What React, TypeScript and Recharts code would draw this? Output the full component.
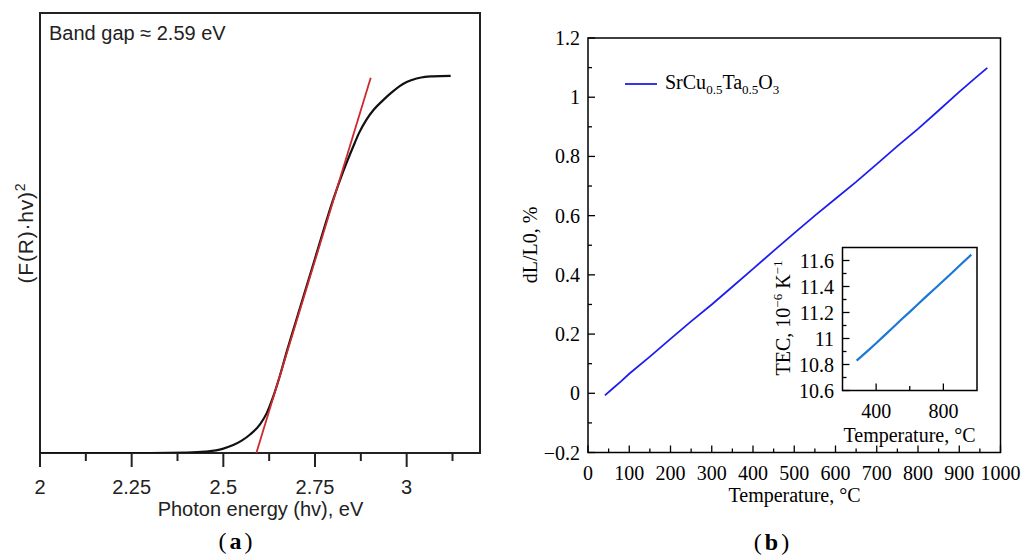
import React from "react";
import { LineChart, Line, XAxis, YAxis, ReferenceArea } from "recharts";

// ---------- Panel (a): Tauc plot ----------
const aCurveX = [2.0, 2.3, 2.4, 2.45, 2.48, 2.5, 2.527, 2.55, 2.573, 2.6, 2.618, 2.636, 2.654, 2.67, 2.7, 2.75, 2.8, 2.827, 2.854, 2.87, 2.89, 2.91, 2.936, 2.96, 2.981, 3.0, 3.027, 3.05, 3.072, 3.12];
const aCurveY = [0, 0, 0.001, 0.003, 0.006, 0.01, 0.018, 0.028, 0.042, 0.065, 0.09, 0.128, 0.175, 0.222, 0.305, 0.442, 0.577, 0.64, 0.696, 0.727, 0.757, 0.78, 0.802, 0.82, 0.834, 0.843, 0.851, 0.855, 0.856, 0.857];
const aFitX = [2.59, 2.902];
const aFitY = [0, 0.853];
const aXMajor = [2, 2.25, 2.5, 2.75, 3];
const aXMajorLabels = ["2", "2.25", "2.5", "2.75", "3"];
const aXMinor = [2.125, 2.375, 2.625, 2.875, 3.125];

// ---------- Panel (b): dilatometry ----------
const bTemp = [41, 60, 80, 100, 150, 200, 250, 300, 350, 400, 450, 500, 550, 600, 650, 700, 750, 800, 850, 900, 940, 968];
const bDL = [-0.007, 0.016, 0.04, 0.066, 0.124, 0.184, 0.243, 0.3, 0.36, 0.42, 0.481, 0.541, 0.6, 0.657, 0.714, 0.774, 0.835, 0.893, 0.955, 1.018, 1.066, 1.099];
const bXMajor = [0, 100, 200, 300, 400, 500, 600, 700, 800, 900, 1000];
const bXMajorLabels = ["0", "100", "200", "300", "400", "500", "600", "700", "800", "900", "1000"];
const bXMinor = [50, 150, 250, 350, 450, 550, 650, 750, 850, 950];
const bYMajor = [-0.2, 0, 0.2, 0.4, 0.6, 0.8, 1.0, 1.2];
const bYMajorLabels = ["\u22120.2", "0", "0.2", "0.4", "0.6", "0.8", "1", "1.2"];
const bYMinor = [-0.1, 0.1, 0.3, 0.5, 0.7, 0.9, 1.1];

// ---------- Inset: TEC ----------
const iTemp = [284, 350, 400, 450, 500, 550, 600, 650, 700, 750, 800, 850, 900, 966];
const iTEC = [10.83, 10.905, 10.963, 11.024, 11.085, 11.146, 11.205, 11.265, 11.326, 11.385, 11.444, 11.504, 11.565, 11.645];
const iXMajor = [400, 800];
const iXMajorLabels = ["400", "800"];
const iXMinor = [600];
const iYMajor = [10.6, 10.8, 11.0, 11.2, 11.4, 11.6];
const iYMajorLabels = ["10.6", "10.8", "11", "11.2", "11.4", "11.6"];
const iYMinor = [10.7, 10.9, 11.1, 11.3, 11.5];

const aCurve = aCurveX.map((x, i) => ({ x, y: aCurveY[i] }));
const aFit = aFitX.map((x, i) => ({ x, y: aFitY[i] }));
const bData = bTemp.map((x, i) => ({ x, y: bDL[i] }));
const iData = iTemp.map((x, i) => ({ x, y: iTEC[i] }));

const SANS = "'Liberation Sans', Arial, sans-serif";
const SERIF = "'Liberation Serif', 'Times New Roman', serif";

function findIdx(arr: number[], v: number) {
  return arr.findIndex((m) => Math.abs(m - v) < 1e-6);
}

function bottomTick(opts: {
  majors: number[]; labels: string[]; axisY: number; labelY: number;
  majorLen: number; minorLen: number; inward: boolean; color: string; width: number; font: string; size: number;
}) {
  return (props: any) => {
    const { x, payload } = props;
    const idx = findIdx(opts.majors, payload.value);
    const len = idx >= 0 ? opts.majorLen : opts.minorLen;
    const dir = opts.inward ? -1 : 1;
    return (
      <g>
        <line x1={x} x2={x} y1={opts.axisY} y2={opts.axisY + dir * len} stroke={opts.color} strokeWidth={opts.width} />
        {idx >= 0 && (
          <text x={x} y={opts.labelY} textAnchor="middle" fontFamily={opts.font} fontSize={opts.size} fill={opts.color}>
            {opts.labels[idx]}
          </text>
        )}
      </g>
    );
  };
}

function leftTick(opts: {
  majors: number[]; labels: string[]; axisX: number; labelX: number;
  majorLen: number; minorLen: number; color: string; width: number; font: string; size: number;
}) {
  return (props: any) => {
    const { y, payload } = props;
    const idx = findIdx(opts.majors, payload.value);
    const len = idx >= 0 ? opts.majorLen : opts.minorLen;
    return (
      <g>
        <line x1={opts.axisX} x2={opts.axisX + len} y1={y} y2={y} stroke={opts.color} strokeWidth={opts.width} />
        {idx >= 0 && (
          <text x={opts.labelX} y={y + 7} textAnchor="end" fontFamily={opts.font} fontSize={opts.size} fill={opts.color}>
            {opts.labels[idx]}
          </text>
        )}
      </g>
    );
  };
}

const layer: React.CSSProperties = { position: "absolute", left: 0, top: 0 };

export default function App() {
  const aTicks = [...aXMajor, ...aXMinor].sort((p, q) => p - q);
  const bXTicks = [...bXMajor, ...bXMinor].sort((p, q) => p - q);
  const bYTicks = [...bYMajor, ...bYMinor].sort((p, q) => p - q);
  const iXTicks = [...iXMajor, ...iXMinor].sort((p, q) => p - q);
  const iYTicks = [...iYMajor, ...iYMinor].sort((p, q) => p - q);

  return (
    <div style={{ position: "absolute", left: 0, top: 0, width: 1026, height: 556, background: "#fff", overflow: "hidden" }}>
      {/* Panel (a) */}
      <div style={layer}>
        <LineChart width={1026} height={556} margin={{ top: 13, left: 39, right: 546, bottom: 102 }}>
          <XAxis
            type="number" dataKey="x" domain={[2, 3.2]} ticks={aTicks} interval={0} height={1}
            axisLine={false} tickLine={false} allowDataOverflow
            tick={bottomTick({ majors: aXMajor, labels: aXMajorLabels, axisY: 453, labelY: 493.5, majorLen: 14, minorLen: 8, inward: false, color: "#222", width: 2, font: SANS, size: 20 })}
          />
          <YAxis type="number" domain={[0, 1]} width={1} tick={false} axisLine={false} tickLine={false} allowDataOverflow />
          <ReferenceArea x1={2} x2={3.2} y1={0} y2={1} fill="none" fillOpacity={0} stroke="#222" strokeWidth={2} />
          <Line data={aCurve} dataKey="y" type="monotone" stroke="#111" strokeWidth={2.2} dot={false} isAnimationActive={false} />
          <Line data={aFit} dataKey="y" type="linear" stroke="#cc2a2e" strokeWidth={1.8} dot={false} isAnimationActive={false} />
        </LineChart>
      </div>

      {/* Panel (b) */}
      <div style={layer}>
        <LineChart width={1026} height={556} margin={{ top: 38, left: 587, right: 25.5, bottom: 102.5 }}>
          <XAxis
            type="number" dataKey="x" domain={[0, 1000]} ticks={bXTicks} interval={0} height={1}
            axisLine={false} tickLine={false} allowDataOverflow
            tick={bottomTick({ majors: bXMajor, labels: bXMajorLabels, axisY: 452.5, labelY: 480, majorLen: 7, minorLen: 4, inward: true, color: "#000", width: 1.3, font: SERIF, size: 20 })}
          />
          <YAxis
            type="number" domain={[-0.2, 1.2]} ticks={bYTicks} interval={0} width={1}
            axisLine={false} tickLine={false} allowDataOverflow
            tick={leftTick({ majors: bYMajor, labels: bYMajorLabels, axisX: 588, labelX: 580, majorLen: 7, minorLen: 4, color: "#000", width: 1.3, font: SERIF, size: 20 })}
          />
          <ReferenceArea x1={0} x2={1000} y1={-0.2} y2={1.2} fill="none" fillOpacity={0} stroke="#000" strokeWidth={1.5} />
          <Line data={bData} dataKey="y" type="linear" stroke="#1e1ef0" strokeWidth={1.8} dot={false} isAnimationActive={false} />
        </LineChart>
      </div>

      {/* Inset */}
      <div style={layer}>
        <LineChart width={1026} height={556} margin={{ top: 247.5, left: 841.5, right: 49, bottom: 164.5 }}>
          <XAxis
            type="number" dataKey="x" domain={[200, 1000]} ticks={iXTicks} interval={0} height={1}
            axisLine={false} tickLine={false} allowDataOverflow
            tick={bottomTick({ majors: iXMajor, labels: iXMajorLabels, axisY: 390.5, labelY: 418, majorLen: 7, minorLen: 4.5, inward: true, color: "#000", width: 1.3, font: SERIF, size: 20 })}
          />
          <YAxis
            type="number" domain={[10.6, 11.7]} ticks={iYTicks} interval={0} width={1}
            axisLine={false} tickLine={false} allowDataOverflow
            tick={leftTick({ majors: iYMajor, labels: iYMajorLabels, axisX: 842.5, labelX: 834, majorLen: 7, minorLen: 4, color: "#000", width: 1.3, font: SERIF, size: 20 })}
          />
          <ReferenceArea x1={200} x2={1000} y1={10.6} y2={11.7} fill="none" fillOpacity={0} stroke="#000" strokeWidth={1.5} />
          <Line data={iData} dataKey="y" type="linear" stroke="#1a78d8" strokeWidth={2.2} dot={false} isAnimationActive={false} />
        </LineChart>
      </div>

      {/* Text overlay */}
      <svg width={1026} height={556} style={layer}>
        {/* panel a texts */}
        <text x={49} y={40} fontFamily={SANS} fontSize={20} fill="#222">Band gap ≈ 2.59 eV</text>
        <text x={260.5} y={516} textAnchor="middle" fontFamily={SANS} fontSize={20} fill="#222">Photon energy (hv), eV</text>
        <text x={33} y={233} textAnchor="middle" fontFamily={SANS} fontSize={21} fill="#222" letterSpacing={0.8} transform="rotate(-90 33 233)">
          (F(R)·hv)<tspan fontSize={14} dy={-8}>2</tspan>
        </text>
        <text x={237} y={549} textAnchor="middle" fontFamily={SERIF} fontSize={24} letterSpacing={3} fill="#000">
          (<tspan fontWeight="bold">a</tspan>)
        </text>

        {/* panel b texts */}
        <text x={794.5} y={502} textAnchor="middle" fontFamily={SERIF} fontSize={20} fill="#000">Temperature, °C</text>
        <text x={537} y={245} textAnchor="middle" fontFamily={SERIF} fontSize={20} fill="#000" transform="rotate(-90 537 245)">dL/L0, %</text>
        <line x1={625} x2={657} y1={84} y2={84} stroke="#1e1ef0" strokeWidth={1.8} />
        <text x={665} y={88.5} fontFamily={SERIF} fontSize={20} fill="#000">
          SrCu<tspan fontSize={13} dy={5}>0.5</tspan><tspan dy={-5}>Ta</tspan><tspan fontSize={13} dy={5}>0.5</tspan><tspan dy={-5}>O</tspan><tspan fontSize={13} dy={5}>3</tspan>
        </text>
        <text x={773} y={550} textAnchor="middle" fontFamily={SERIF} fontSize={24} letterSpacing={3} fill="#000">
          (<tspan fontWeight="bold">b</tspan>)
        </text>

        {/* inset texts */}
        <text x={909.5} y={442} textAnchor="middle" fontFamily={SERIF} fontSize={20} fill="#000">Temperature, °C</text>
        <text x={790} y={318} textAnchor="middle" fontFamily={SERIF} fontSize={20} fill="#000" transform="rotate(-90 790 318)">
          TEC, 10<tspan fontSize={13} dy={-8}>−6</tspan><tspan dy={8}> K</tspan><tspan fontSize={13} dy={-8}>−1</tspan>
        </text>
      </svg>
    </div>
  );
}
